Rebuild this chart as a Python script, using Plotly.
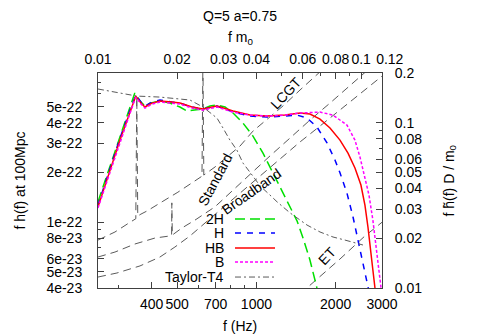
import plotly.graph_objects as go

# gravitational-wave spectra, Q=5 a=0.75 (f in Hz, f h(f) at 100 Mpc)
freq_2h = [250, 278, 303, 331, 345, 361, 377, 394, 430, 469, 512, 545, 584, 626, 666, 708,
           760, 815, 889, 970, 1059, 1156, 1261, 1341, 1426, 1503, 1597, 1698, 1744]
h_2h = [1.33e-22, 2.19e-22, 3.32e-22, 5.05e-22, 6.05e-22, 5.41e-22, 5.05e-22, 5.26e-22,
        5.41e-22, 5.26e-22, 4.98e-22, 4.71e-22, 4.77e-22, 4.84e-22, 5.05e-22, 5.12e-22,
        4.98e-22, 4.58e-22, 3.98e-22, 3.32e-22, 2.62e-22, 1.99e-22, 1.50e-22, 1.24e-22,
        1.02e-22, 8.03e-23, 5.91e-23, 4.00e-23, 3.58e-23]

freq_h = [250, 278, 303, 331, 348, 364, 377, 401, 430, 477, 512, 569, 626, 708, 815, 945,
          1097, 1284, 1426, 1556, 1698, 1854, 1988, 2077, 2208, 2327, 2474, 2584, 2677, 2700]
h_h = [1.27e-22, 2.13e-22, 3.23e-22, 4.77e-22, 5.88e-22, 5.34e-22, 5.05e-22, 5.34e-22,
       5.49e-22, 5.34e-22, 5.26e-22, 4.98e-22, 4.84e-22, 5.05e-22, 4.64e-22, 4.39e-22,
       4.33e-22, 4.39e-22, 4.45e-22, 4.27e-22, 3.77e-22, 3.02e-22, 2.38e-22, 1.99e-22,
       1.50e-22, 1.08e-22, 6.98e-23, 5.14e-23, 4.00e-23, 3.58e-23]

freq_hb = [250, 278, 303, 331, 348, 364, 377, 401, 430, 477, 512, 569, 626, 708, 815, 945,
           1097, 1284, 1464, 1597, 1744, 1903, 2077, 2228, 2368, 2495, 2584, 2653, 2722,
           2770, 2821, 2845]
h_hb = [1.24e-22, 2.07e-22, 3.14e-22, 4.64e-22, 5.80e-22, 5.26e-22, 4.98e-22, 5.26e-22,
        5.41e-22, 5.34e-22, 5.26e-22, 4.98e-22, 4.84e-22, 5.05e-22, 4.71e-22, 4.45e-22,
        4.39e-22, 4.45e-22, 4.58e-22, 4.52e-22, 4.21e-22, 3.72e-22, 3.14e-22, 2.62e-22,
        2.13e-22, 1.68e-22, 1.27e-22, 9.36e-23, 6.79e-23, 5.14e-23, 4.00e-23, 3.58e-23]

freq_b = [250, 278, 303, 331, 348, 364, 377, 401, 430, 477, 512, 569, 626, 708, 815, 945,
          1097, 1284, 1464, 1744, 1954, 2208, 2368, 2474, 2561, 2677, 2770, 2845, 2896,
          2973, 3000]
h_b = [1.22e-22, 2.01e-22, 3.10e-22, 4.58e-22, 5.72e-22, 5.19e-22, 4.91e-22, 5.19e-22,
       5.34e-22, 5.26e-22, 5.19e-22, 4.91e-22, 4.77e-22, 4.98e-22, 4.64e-22, 4.45e-22,
       4.39e-22, 4.45e-22, 4.58e-22, 4.64e-22, 4.45e-22, 3.87e-22, 3.14e-22, 2.48e-22,
       1.93e-22, 1.46e-22, 1.03e-22, 7.28e-23, 5.51e-23, 4.00e-23, 3.58e-23]

freq_t4 = [250, 351, 430, 559, 626, 666, 708, 746, 793, 843, 889, 970, 1032, 1126, 1197,
           1341, 1464, 1556, 1744, 1954, 2170, 2368, 2540]
h_t4 = [6.40e-22, 5.80e-22, 5.72e-22, 5.49e-22, 4.98e-22, 4.58e-22, 4.27e-22, 3.72e-22,
        3.14e-22, 2.73e-22, 2.28e-22, 1.90e-22, 1.66e-22, 1.46e-22, 1.33e-22, 1.14e-22,
        1.03e-22, 9.62e-23, 8.73e-23, 8.14e-23, 7.80e-23, 7.49e-23, 7.28e-23]

# detector noise curves
freq_lcgt = [250, 290, 331, 348, 351, 354, 364, 384, 438, 503, 584, 621, 626, 631, 696,
             773, 866, 970, 1097, 1261, 1464, 1714, 1775]
h_lcgt = [7.80e-23, 8.73e-23, 1.00e-22, 1.05e-22, 5.72e-22, 1.09e-22, 1.12e-22, 1.17e-22,
          1.33e-22, 1.52e-22, 1.78e-22, 1.90e-22, 9.60e-22, 1.93e-22, 2.16e-22, 2.48e-22,
          2.89e-22, 3.56e-22, 4.21e-22, 5.05e-22, 6.31e-22, 7.88e-22, 8.34e-22]

freq_std = [250, 290, 345, 412, 469, 476, 477, 479, 521, 584, 696, 815, 945, 1126, 1341,
            1597, 1903, 2267, 2584, 2700]
h_std = [6.16e-23, 6.60e-23, 7.38e-23, 8.03e-23, 8.26e-23, 8.30e-23, 1.31e-22, 8.37e-23,
         9.23e-23, 1.03e-22, 1.24e-22, 1.57e-22, 1.96e-22, 2.52e-22, 3.23e-22, 4.15e-22,
         5.26e-22, 6.67e-22, 8.00e-22, 8.57e-22]

freq_bb = [250, 295, 361, 430, 490, 559, 666, 793, 945, 1176, 1464, 1744, 2077, 2474, 3000]
h_bb = [4.66e-23, 4.93e-23, 5.44e-23, 6.16e-23, 7.08e-23, 8.26e-23, 1.05e-22, 1.33e-22,
        1.68e-22, 2.25e-22, 3.06e-22, 3.82e-22, 4.77e-22, 5.97e-22, 7.66e-22]

freq_et = [1464, 1556, 1698, 1903, 2077, 2327, 2584, 2821, 3000]
h_et = [3.68e-23, 4.00e-23, 4.53e-23, 5.28e-23, 5.99e-23, 7.08e-23, 8.26e-23, 9.23e-23,
        1.00e-22]

# axis ticks
x_ticks = [400, 500, 700, 1000, 2000, 3000]
x_minor = [300, 600, 800, 900]
x2_ticks = [0.01, 0.02, 0.03, 0.04, 0.06, 0.08, 0.1, 0.12]
x2_labels = ['0.01', '0.02', '0.03', '0.04', '0.06', '0.08', '0.1',
             '\u00a0\u00a0\u00a0\u00a00.12']
x2_minor = [0.05, 0.07, 0.09]
y_ticks = [4e-23, 5e-23, 6e-23, 8e-23, 1e-22, 2e-22, 3e-22, 4e-22, 5e-22]
y_labels = ['4e-23', '5e-23', '6e-23', '8e-23', '1e-22', '2e-22', '3e-22', '4e-22', '5e-22']
y_minor = [7e-23, 9e-23, 6e-22, 7e-22]
y2_ticks = [0.01, 0.02, 0.03, 0.04, 0.05, 0.06, 0.08, 0.1, 0.2]
y2_minor = [0.07, 0.09]

FONT = 'Liberation Sans, Arial, sans-serif'
AX = '#404040'
NOISE = '#5a5a5a'

fig = go.Figure()

for fx, hy in [(freq_lcgt, h_lcgt), (freq_std, h_std), (freq_bb, h_bb), (freq_et, h_et)]:
    fig.add_trace(go.Scatter(x=fx, y=hy, mode='lines', showlegend=False,
                             line=dict(color=NOISE, width=1, dash='8px,5px')))

signals = [
    ('2H', freq_2h, h_2h, '#00e000', '10px,5px', 1.5),
    ('H', freq_h, h_h, '#0000ff', '6px,6px', 1.5),
    ('HB', freq_hb, h_hb, '#ff0000', 'solid', 1.5),
    ('B', freq_b, h_b, '#ff00ff', '3px,2px', 1.5),
    ('Taylor-T4', freq_t4, h_t4, NOISE, '6px,3px,2px,3px', 1),
]
for name, fx, hy, col, dash, w in signals:
    fig.add_trace(go.Scatter(x=fx, y=hy, mode='lines', name=name, showlegend=False,
                             line=dict(color=col, width=w, dash=dash)))

# empty trace so the top/right axes get drawn
fig.add_trace(go.Scatter(x=[], y=[], xaxis='x2', yaxis='y2', showlegend=False))

axis_common = dict(type='log', showgrid=False, zeroline=False, showline=True,
                   linecolor=AX, linewidth=1, ticks='inside', ticklen=6, tickcolor=AX,
                   tickangle=0, tickfont=dict(family=FONT, size=14, color='black'))

# the page body adds an 8px margin, so the margins are set 8px short on the left/top
fig.update_layout(
    width=480, height=336,
    margin=dict(l=90, r=106, t=65, b=56),
    plot_bgcolor='white', paper_bgcolor='white',
    font=dict(family=FONT, size=14, color='black'),
    xaxis=dict(axis_common, range=[2.39794, 3.47712], tickvals=x_ticks,
               ticktext=[str(v) for v in x_ticks], ticklabelstandoff=3,
               minor=dict(tickvals=x_minor, ticks='inside', ticklen=3, tickcolor=AX)),
    xaxis2=dict(axis_common, range=[-2, -0.92082], overlaying='x', side='top', anchor='y',
                tickvals=x2_ticks, ticktext=x2_labels, ticklabelstandoff=2,
                minor=dict(tickvals=x2_minor, ticks='inside', ticklen=3, tickcolor=AX)),
    yaxis=dict(axis_common, range=[-22.39794, -21.09691], tickvals=y_ticks,
               ticktext=y_labels, ticklabelstandoff=12,
               minor=dict(tickvals=y_minor, ticks='inside', ticklen=3, tickcolor=AX)),
    yaxis2=dict(axis_common, range=[-2, -0.69897], overlaying='y', side='right', anchor='x',
                tickvals=y2_ticks, ticktext=[str(v) for v in y2_ticks], ticklabelstandoff=9,
                minor=dict(tickvals=y2_minor, ticks='inside', ticklen=3, tickcolor=AX)),
)

notes = [
    dict(text='Q=5 a=0.75', x=0.5, y=1.3116, textangle=0, yanchor='top'),
    dict(text='f m<sub>0</sub>', x=0.5, y=1.163, textangle=0, yanchor='middle'),
    dict(text='f (Hz)', x=0.5, y=-0.177, textangle=0, yanchor='middle'),
    dict(text='f h(f) at 100Mpc', x=-0.278, y=0.5, textangle=-90, yanchor='middle'),
    dict(text='f h\u0303(f) D / m<sub>0</sub>', x=1.236, y=0.5, textangle=-90,
         yanchor='middle'),
    dict(text='LCGT', x=0.662, y=0.907, textangle=-47, yanchor='middle'),
    dict(text='Standard', x=0.412, y=0.502, textangle=-62, yanchor='middle'),
    dict(text='Broadband', x=0.542, y=0.451, textangle=-35, yanchor='middle'),
    dict(text='ET', x=0.806, y=0.149, textangle=-47, yanchor='middle'),
]
for n in notes:
    fig.add_annotation(xref='paper', yref='paper', showarrow=False, xanchor='center',
                       font=dict(family=FONT, size=14, color='black'), **n)

# gnuplot style key: label on the left, line sample on the right
key_rows = [0.321, 0.256, 0.186, 0.121, 0.051]
for (name, fx, hy, col, dash, w), ky in zip(signals, key_rows):
    fig.add_annotation(xref='paper', yref='paper', x=0.4507, y=ky, text=name,
                       showarrow=False, xanchor='right', yanchor='middle',
                       font=dict(family=FONT, size=14, color='black'))
    fig.add_shape(type='line', xref='paper', yref='paper', x0=0.4824, x1=0.6232,
                  y0=ky, y1=ky, line=dict(color=col, width=w, dash=dash))

fig.write_html("out.html")
